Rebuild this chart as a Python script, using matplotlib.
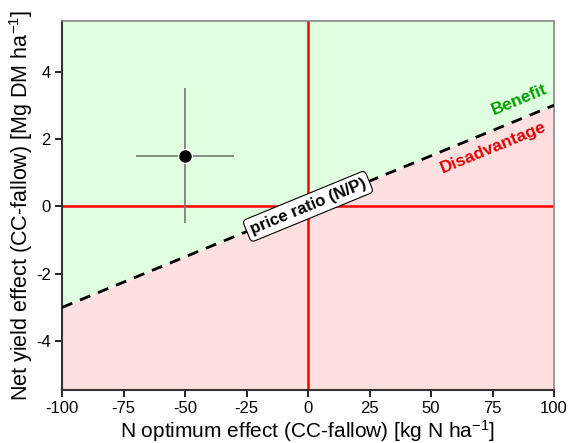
import numpy as np
import matplotlib
matplotlib.use("Agg")
import matplotlib.pyplot as plt

plt.rcParams["font.family"] = ["Liberation Sans", "DejaVu Sans"]
plt.rcParams["mathtext.default"] = "regular"
plt.rcParams["axes.unicode_minus"] = False

# data
x_lim = [-100, 100]
y_lim = [-5.45, 5.5]
price_line_x = [-100, 100]
price_line_y = [-3, 3]
point_x = [-50]
point_y = [1.5]
point_xerr = [20]
point_yerr = [2]
x_ticks = [-100, -75, -50, -25, 0, 25, 50, 75, 100]
y_ticks = [-4, -2, 0, 2, 4]

fig = plt.figure(figsize=(5.7, 4.43), dpi=100)
ax = fig.add_axes([62 / 570, 1 - 390 / 443, 492 / 570, 369 / 443])

# benefit / disadvantage areas
ax.fill_between(price_line_x, price_line_y, y_lim[1], color="#e0ffe0", lw=0)
ax.fill_between(price_line_x, y_lim[0], price_line_y, color="#ffe0e0", lw=0)

ax.axhline(0, color="#ff0000", lw=1.8, zorder=2)
ax.axvline(0, color="#ff0000", lw=1.8, zorder=2)

ax.plot(price_line_x, price_line_y, color="black", lw=2, ls=(0, (4, 3)), zorder=3)

ax.errorbar(point_x, point_y, xerr=point_xerr, yerr=point_yerr, fmt="o",
            color="black", ms=10, mec="white", mew=1,
            ecolor="#6f7a6f", elinewidth=1.2, capsize=0, zorder=4)

angle = np.degrees(np.arctan2(6 * 369 / (y_lim[1] - y_lim[0]), 492))
ax.text(0, 0, "price ratio (N/P)", rotation=angle, ha="center", va="center",
        fontsize=12, fontweight="bold", rotation_mode="anchor", zorder=5,
        bbox=dict(boxstyle="round,pad=0.25", fc="white", ec="black", lw=0.8))
ax.text(87, 2.95, "Benefit", color="#00a000", fontsize=12.5, fontweight="bold",
        rotation=angle, rotation_mode="anchor", ha="center", va="bottom")
ax.text(74, 1.95, "Disadvantage", color="#e00000", fontsize=12.5,
        fontweight="bold", rotation=angle, rotation_mode="anchor",
        ha="center", va="top")

ax.set_xlim(x_lim)
ax.set_ylim(y_lim)
ax.set_xticks(x_ticks)
ax.set_yticks(y_ticks)
ax.tick_params(labelsize=12, length=5, width=1.2, pad=3, colors="black")

for side in ["top", "right"]:
    ax.spines[side].set_color("#888888")
    ax.spines[side].set_linewidth(1.2)
for side in ["left", "bottom"]:
    ax.spines[side].set_color("#333333")
    ax.spines[side].set_linewidth(1.5)

ax.set_xlabel("N optimum effect (CC-fallow) [kg N ha$^{-1}$]", fontsize=15)
ax.set_ylabel("Net yield effect (CC-fallow) [Mg DM ha$^{-1}$]", fontsize=15.5)
ax.xaxis.label.set_verticalalignment("baseline")
ax.yaxis.label.set_verticalalignment("baseline")
ax.xaxis.set_label_coords(0.5, (390 - 438) / 369)
ax.yaxis.set_label_coords((28 - 62) / 492, 0.5)

fig.savefig("out.png", dpi=100)
